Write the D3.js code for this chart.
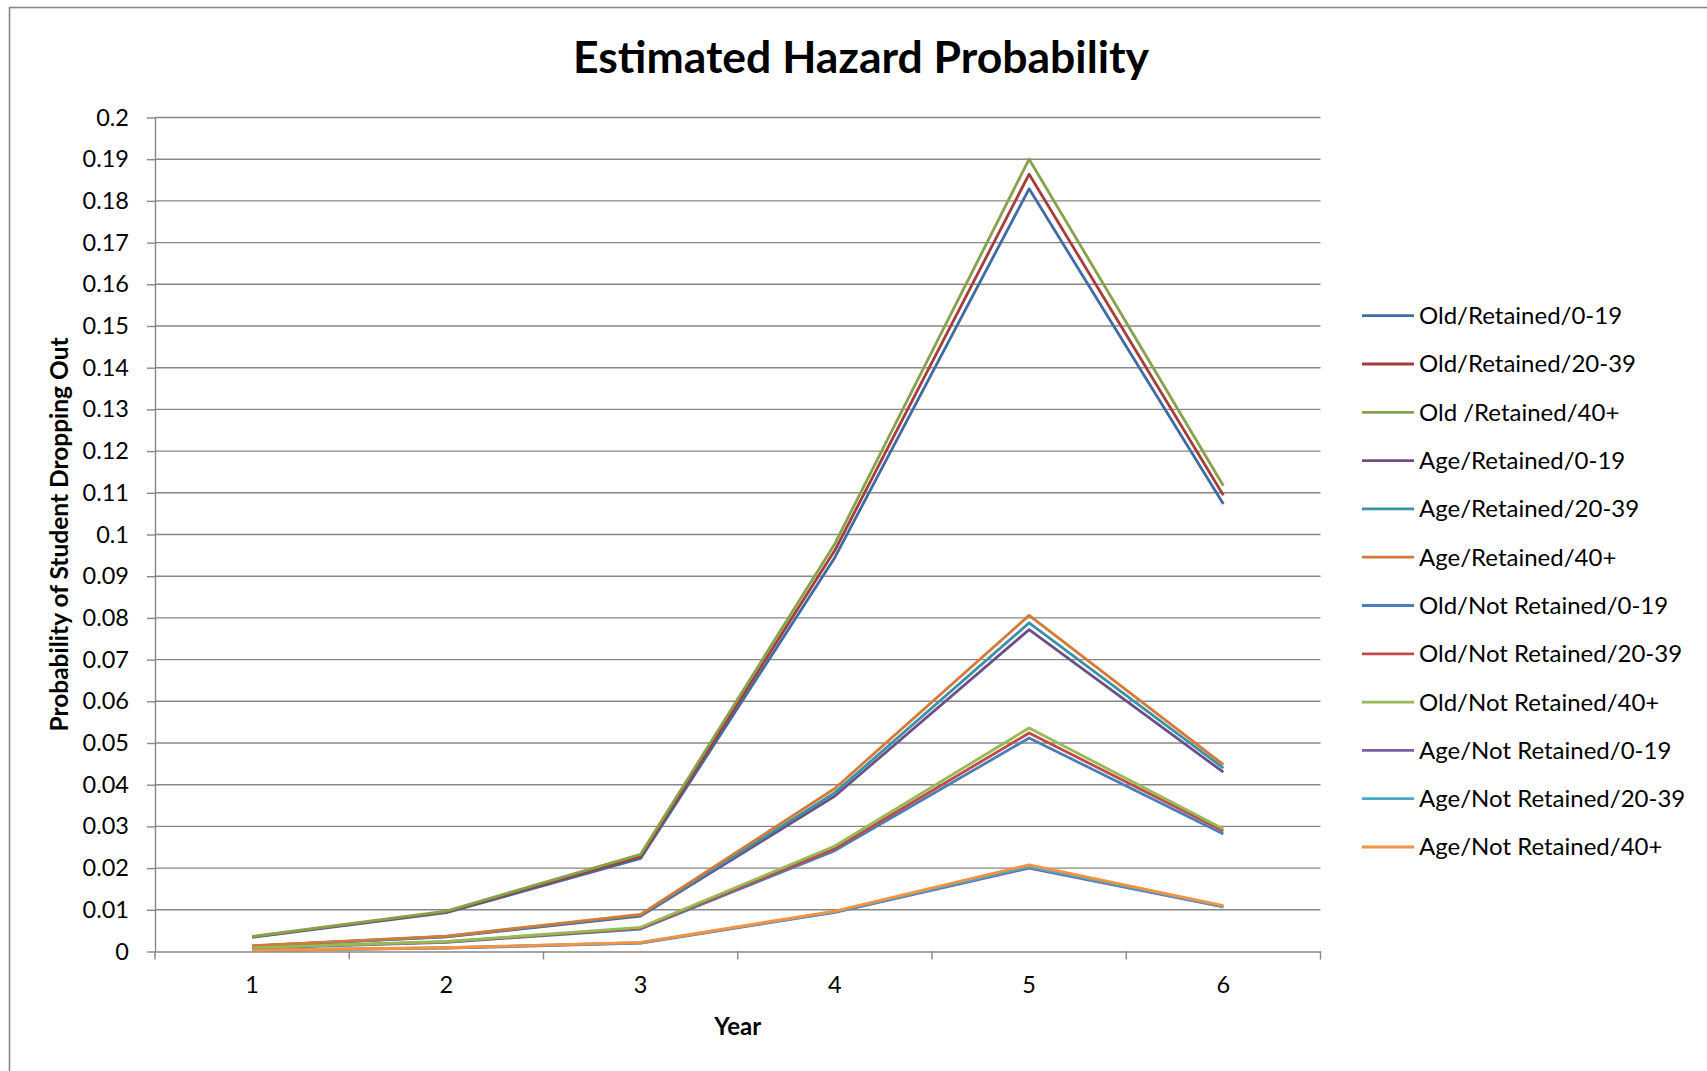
<!DOCTYPE html>
<html>
<head>
<meta charset="utf-8">
<script src="https://cdn.jsdelivr.net/npm/d3@7"></script>
<style>
  html, body { margin: 0; padding: 0; background: #fff; }
  svg { display: block; font-family: Lato, "Open Sans", sans-serif; }
</style>
</head>
<body>
<svg id="chart" width="1707" height="1071"></svg>
<script>
// ── data ────────────────────────────────────────────
const years = [1, 2, 3, 4, 5, 6];

const seriesNames = [
  'Old/Retained/0-19', 'Old/Retained/20-39', 'Old /Retained/40+',
  'Age/Retained/0-19', 'Age/Retained/20-39', 'Age/Retained/40+',
  'Old/Not Retained/0-19', 'Old/Not Retained/20-39', 'Old/Not Retained/40+',
  'Age/Not Retained/0-19', 'Age/Not Retained/20-39', 'Age/Not Retained/40+'
];

const oldRet0   = [0.0034, 0.0093, 0.0223, 0.0945, 0.1829, 0.1073];
const oldRet20  = [0.0035, 0.0095, 0.0228, 0.0962, 0.1864, 0.1094];
const oldRet40  = [0.0036, 0.0097, 0.0233, 0.0978, 0.1900, 0.1117];
const ageRet0   = [0.0013, 0.0035, 0.0085, 0.0373, 0.0772, 0.0430];
const ageRet20  = [0.0013, 0.0036, 0.0087, 0.0381, 0.0788, 0.0440];
const ageRet40  = [0.0014, 0.0037, 0.0089, 0.0391, 0.0806, 0.0448];
const oldNot0   = [0.0008, 0.0022, 0.0054, 0.0242, 0.0512, 0.0282];
const oldNot20  = [0.0009, 0.0023, 0.0056, 0.0247, 0.0524, 0.0289];
const oldNot40  = [0.0009, 0.0024, 0.0058, 0.0253, 0.0536, 0.0294];
const ageNot0   = [0.0003, 0.0008, 0.0020, 0.0094, 0.0200, 0.0107];
const ageNot20  = [0.0003, 0.0009, 0.0021, 0.0095, 0.0203, 0.0108];
const ageNot40  = [0.0003, 0.0009, 0.0022, 0.0097, 0.0208, 0.0110];

const seriesValues = [
  oldRet0, oldRet20, oldRet40, ageRet0, ageRet20, ageRet40,
  oldNot0, oldNot20, oldNot40, ageNot0, ageNot20, ageNot40
];

const yTicks = d3.range(0, 21).map(i => i / 100);

// Excel 2007 palette: darker shades first, then the plain accents
const COLORS = [
  '#3F6CA6', '#A63D3A', '#86A24A', '#6B5088', '#3A92AA', '#D47A36',
  '#4A7EBB', '#BE4B48', '#98B954', '#7D60A0', '#46AAC5', '#F69240'
];

// ── layout ──────────────────────────────────────────
const W = 1707, H = 1071;
const plot = { left: 155, right: 1320.5, top: 117.5, bottom: 951.5 };
const GRID = '#878787';

const svg = d3.select('#chart');

svg.append('rect')
  .attr('width', W).attr('height', H).attr('fill', '#fff');

// chart area border (runs off the right and bottom)
svg.append('rect')
  .attr('x', 9.5).attr('y', 7.5)
  .attr('width', W + 20).attr('height', H + 20)
  .attr('fill', 'none')
  .attr('stroke', GRID).attr('stroke-width', 1.6);

const xBand = d3.scaleBand()
  .domain(years)
  .range([plot.left, plot.right]);

const y = d3.scaleLinear()
  .domain([0, 0.2])
  .range([plot.bottom, plot.top]);

// ── gridlines ───────────────────────────────────────
svg.append('g')
  .selectAll('line')
  .data(yTicks.filter(d => d > 0))
  .join('line')
  .attr('x1', plot.left).attr('x2', plot.right)
  .attr('y1', d => y(d)).attr('y2', d => y(d))
  .attr('stroke', GRID).attr('stroke-width', 1.4);

// ── y axis ──────────────────────────────────────────
const yAxis = svg.append('g')
  .attr('transform', `translate(${plot.left},0)`)
  .call(d3.axisLeft(y)
    .tickValues(yTicks)
    .tickFormat(d => String(+d.toFixed(2)))
    .tickSize(8)
    .tickSizeOuter(0)
    .tickPadding(18));
yAxis.select('.domain').attr('stroke', GRID).attr('stroke-width', 1.4);
yAxis.selectAll('.tick line').attr('stroke', GRID).attr('stroke-width', 1.4);
yAxis.selectAll('.tick text')
  .attr('font-size', 23.5).attr('fill', '#000')
  .attr('font-family', 'Lato');

// ── x axis (ticks sit between categories) ───────────
const xAxis = svg.append('g')
  .attr('transform', `translate(0,${plot.bottom})`)
  .call(d3.axisBottom(xBand).tickSize(0).tickPadding(25));
xAxis.select('.domain').attr('stroke', GRID).attr('stroke-width', 1.4);
xAxis.selectAll('.tick text')
  .attr('font-size', 23.5).attr('fill', '#000')
  .attr('font-family', 'Lato');

svg.append('g')
  .selectAll('line')
  .data(d3.range(years.length + 1))
  .join('line')
  .attr('x1', i => plot.left + i * xBand.step())
  .attr('x2', i => plot.left + i * xBand.step())
  .attr('y1', plot.bottom).attr('y2', plot.bottom + 8)
  .attr('stroke', GRID).attr('stroke-width', 1.4);

// ── lines ───────────────────────────────────────────
const line = d3.line()
  .x((d, i) => xBand(years[i]) + xBand.bandwidth() / 2)
  .y(d => y(d));

svg.append('g')
  .selectAll('path')
  .data(seriesValues)
  .join('path')
  .attr('d', d => line(d))
  .attr('fill', 'none')
  .attr('stroke', (d, i) => COLORS[i])
  .attr('stroke-width', 2.8)
  .attr('stroke-linejoin', 'round');

// ── titles ──────────────────────────────────────────
svg.append('text')
  .attr('x', 861).attr('y', 73)
  .attr('text-anchor', 'middle')
  .attr('font-size', 44.5).attr('font-weight', 'bold')
  .text('Estimated Hazard Probability');

svg.append('text')
  .attr('x', (plot.left + plot.right) / 2).attr('y', 1035)
  .attr('text-anchor', 'middle')
  .attr('font-size', 24).attr('font-weight', 'bold')
  .text('Year');

svg.append('text')
  .attr('transform', `translate(68,${(plot.top + plot.bottom) / 2}) rotate(-90)`)
  .attr('text-anchor', 'middle')
  .attr('font-size', 24.5).attr('font-weight', 'bold')
  .text('Probability of Student Dropping Out');

// ── legend ──────────────────────────────────────────
const legend = svg.append('g')
  .selectAll('g')
  .data(seriesNames)
  .join('g')
  .attr('transform', (d, i) => `translate(1362,${315.7 + i * 48.3})`);

legend.append('line')
  .attr('x1', 0).attr('x2', 52)
  .attr('stroke', (d, i) => COLORS[i])
  .attr('stroke-width', 2.8);

legend.append('text')
  .attr('x', 57).attr('dy', '0.35em')
  .attr('font-size', 24)
  .text(d => d);
</script>
</body>
</html>
